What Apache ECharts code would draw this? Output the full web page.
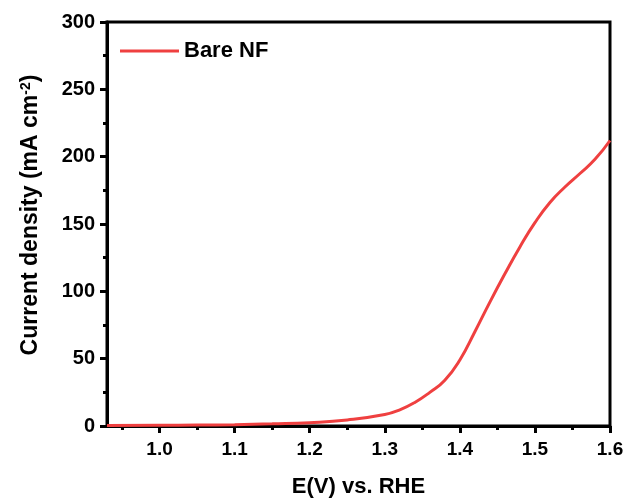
<!DOCTYPE html>
<html>
<head>
<meta charset="utf-8">
<script src="https://cdn.jsdelivr.net/npm/echarts@6/dist/echarts.min.js"></script>
<style>
  html, body { margin: 0; padding: 0; background: #fff; }
  #main { width: 629px; height: 503px; }
</style>
</head>
<body>
<div id="main"></div>
<script>
// potential (V vs RHE) and current density (mA cm-2)
var potential = [0.93, 1.0, 1.05, 1.1, 1.15, 1.2, 1.25, 1.3, 1.32, 1.34, 1.36, 1.38, 1.4, 1.42, 1.44, 1.46, 1.48, 1.5, 1.52, 1.54, 1.56, 1.58, 1.6];
var current = [0.3, 0.5, 0.7, 1.0, 1.6, 2.5, 4.5, 8.5, 12, 17.5, 25, 34, 49, 70, 92, 113, 133, 151, 166, 177.5, 187.5, 198, 212];
var xMajor = [1.0, 1.1, 1.2, 1.3, 1.4, 1.5, 1.6];
var xMinor = [0.95, 1.05, 1.15, 1.25, 1.35, 1.45, 1.55];

var FONT = '"Liberation Sans", Arial, sans-serif';
var chart = echarts.init(document.getElementById("main"));

var points = [];
for (var i = 0; i < potential.length; i++) {
    points.push([potential[i], current[i]]);
}

var option = {
    backgroundColor: "#fff",
    animation: false,
    grid: {
        left: 107,
        right: 19,
        top: 22,
        bottom: 74,
        show: true,
        borderColor: "#000",
        borderWidth: 3,
        backgroundColor: "transparent",
    },
    legend: {
        data: [{ name: "Bare NF", icon: "rect" }],
        left: 115,
        top: 35,
        itemWidth: 59,
        itemHeight: 3,
        itemGap: 6,
        textStyle: {
            fontFamily: FONT,
            fontWeight: "bold",
            fontSize: 22,
            color: "#000",
        },
    },
    xAxis: [
        {
            type: "value",
            min: 0.93,
            max: 1.6,
            position: "bottom",
            name: "E(V) vs. RHE",
            nameLocation: "middle",
            nameGap: 50,
            nameTextStyle: {
                fontFamily: FONT,
                fontWeight: "bold",
                fontSize: 22,
                color: "#000",
            },
            axisLine: { show: true, lineStyle: { color: "#000", width: 3 } },
            axisTick: {
                show: true,
                customValues: xMajor,
                length: 7,
                lineStyle: { color: "#000", width: 3 },
            },
            axisLabel: {
                customValues: xMajor,
                margin: 14,
                fontFamily: FONT,
                fontWeight: "bold",
                fontSize: 19,
                color: "#000",
                formatter: function (v) {
                    return v.toFixed(1);
                },
            },
            splitLine: { show: false },
        },
        {
            type: "value",
            min: 0.93,
            max: 1.6,
            position: "bottom",
            axisLine: { show: false },
            axisTick: {
                show: true,
                customValues: xMinor,
                length: 4,
                lineStyle: { color: "#000", width: 3 },
            },
            axisLabel: { show: false },
            splitLine: { show: false },
        },
    ],
    yAxis: {
        type: "value",
        min: 0,
        max: 300,
        interval: 50,
        name: "Current density (mA cm{sup|-2})",
        nameLocation: "middle",
        nameGap: 64,
        nameTextStyle: {
            fontFamily: FONT,
            fontWeight: "bold",
            fontSize: 23,
            color: "#000",
            padding: [0, 0, 0, 18],
            rich: {
                sup: {
                    fontFamily: FONT,
                    fontWeight: "bold",
                    fontSize: 14,
                    color: "#000",
                    verticalAlign: "top",
                    padding: [0, 0, 10, 0],
                },
            },
        },
        axisLine: { show: true, lineStyle: { color: "#000", width: 3 } },
        axisTick: { show: true, length: 7, lineStyle: { color: "#000", width: 3 } },
        minorTick: { show: true, splitNumber: 2, length: 4, lineStyle: { color: "#000", width: 3 } },
        axisLabel: {
            margin: 12,
            fontFamily: FONT,
            fontWeight: "bold",
            fontSize: 20,
            color: "#000",
        },
        splitLine: { show: false },
        minorSplitLine: { show: false },
    },
    series: [
        {
            name: "Bare NF",
            type: "line",
            data: points,
            smooth: true,
            symbol: "none",
            lineStyle: { color: "#ef4040", width: 3 },
            itemStyle: { color: "#ef4040" },
        },
    ],
};

chart.setOption(option);
</script>
</body>
</html>
